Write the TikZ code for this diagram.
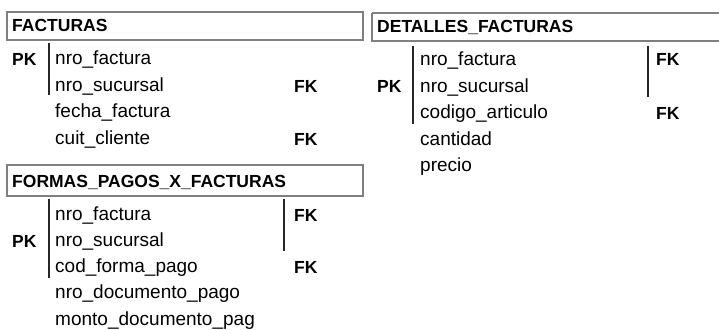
\documentclass[tikz,border=0pt]{standalone}
\usepackage{fontspec}
\setmainfont{Liberation Sans}
\begin{document}
\begin{tikzpicture}[x=1pt,y=-1pt,
  tbox/.style={draw={rgb,255:red,128;green,128;blue,128},line width=1.5pt},
  ttl/.style={anchor=base west,inner sep=0pt,font=\bfseries\fontsize{17.5}{20}\selectfont},
  fld/.style={anchor=base west,inner sep=0pt,font=\fontsize{19}{20}\selectfont},
  key/.style={anchor=base west,inner sep=0pt,font=\bfseries\fontsize{17.5}{20}\selectfont},
  bar/.style={draw=black!85,line width=2.3pt}]
\useasboundingbox[fill=white] (0,0) rectangle (719,329);
% FACTURAS
\draw[tbox] (7,12) rectangle (363,40);
\node[ttl] (t1) at (12,32) {FACTURAS};
\node[key] (pk1) at (12,65) {PK};
\node[fld] (f11) at (55,64) {nro\_factura};
\node[fld] (f12) at (55,91) {nro\_sucursal};
\node[fld] (f13) at (55,117) {fecha\_factura};
\node[fld] (f14) at (55,144) {cuit\_cliente};
\node[key] (fk12) at (294,92) {FK};
\node[key] (fk14) at (294,145) {FK};
\coordinate (b1a) at (49,43);
\coordinate (b1b) at (49,95);
\draw[bar] (b1a) -- (b1b);
% DETALLES_FACTURAS
\draw[tbox] (372,13) -- (725,13) (372,13) -- (372,41) -- (725,41);
\node[ttl] (t2) at (377,33) {DETALLES\_FACTURAS};
\node[key] (pk2) at (377,92) {PK};
\node[fld] (f21) at (420,65) {nro\_factura};
\node[fld] (f22) at (420,92) {nro\_sucursal};
\node[fld] (f23) at (420,118) {codigo\_articulo};
\node[fld] (f24) at (420,145) {cantidad};
\node[fld] (f25) at (420,171) {precio};
\node[key] (fk21) at (656,66) {FK};
\node[key] (fk23) at (656,119) {FK};
\coordinate (b2a) at (413,46);
\coordinate (b2b) at (413,124);
\draw[bar] (b2a) -- (b2b);
\coordinate (b2c) at (648,46);
\coordinate (b2d) at (648,97);
\draw[bar] (b2c) -- (b2d);
% FORMAS_PAGOS_X_FACTURAS
\draw[tbox] (7,165) rectangle (363,196);
\node[ttl] (t3) at (12,187) {FORMAS\_PAGOS\_X\_FACTURAS};
\node[key] (pk3) at (12,247) {PK};
\node[fld] (f31) at (55,220) {nro\_factura};
\node[fld] (f32) at (55,246) {nro\_sucursal};
\node[fld] (f33) at (55,272) {cod\_forma\_pago};
\node[fld] (f34) at (55,298) {nro\_documento\_pago};
\node[fld] (f35) at (55,325) {monto\_documento\_pag};
\node[key] (fk31) at (294,221) {FK};
\node[key] (fk33) at (294,273) {FK};
\coordinate (b3a) at (49,199);
\coordinate (b3b) at (49,278);
\draw[bar] (b3a) -- (b3b);
\coordinate (b3c) at (284,199);
\coordinate (b3d) at (284,251);
\draw[bar] (b3c) -- (b3d);
\end{tikzpicture}
\end{document}
